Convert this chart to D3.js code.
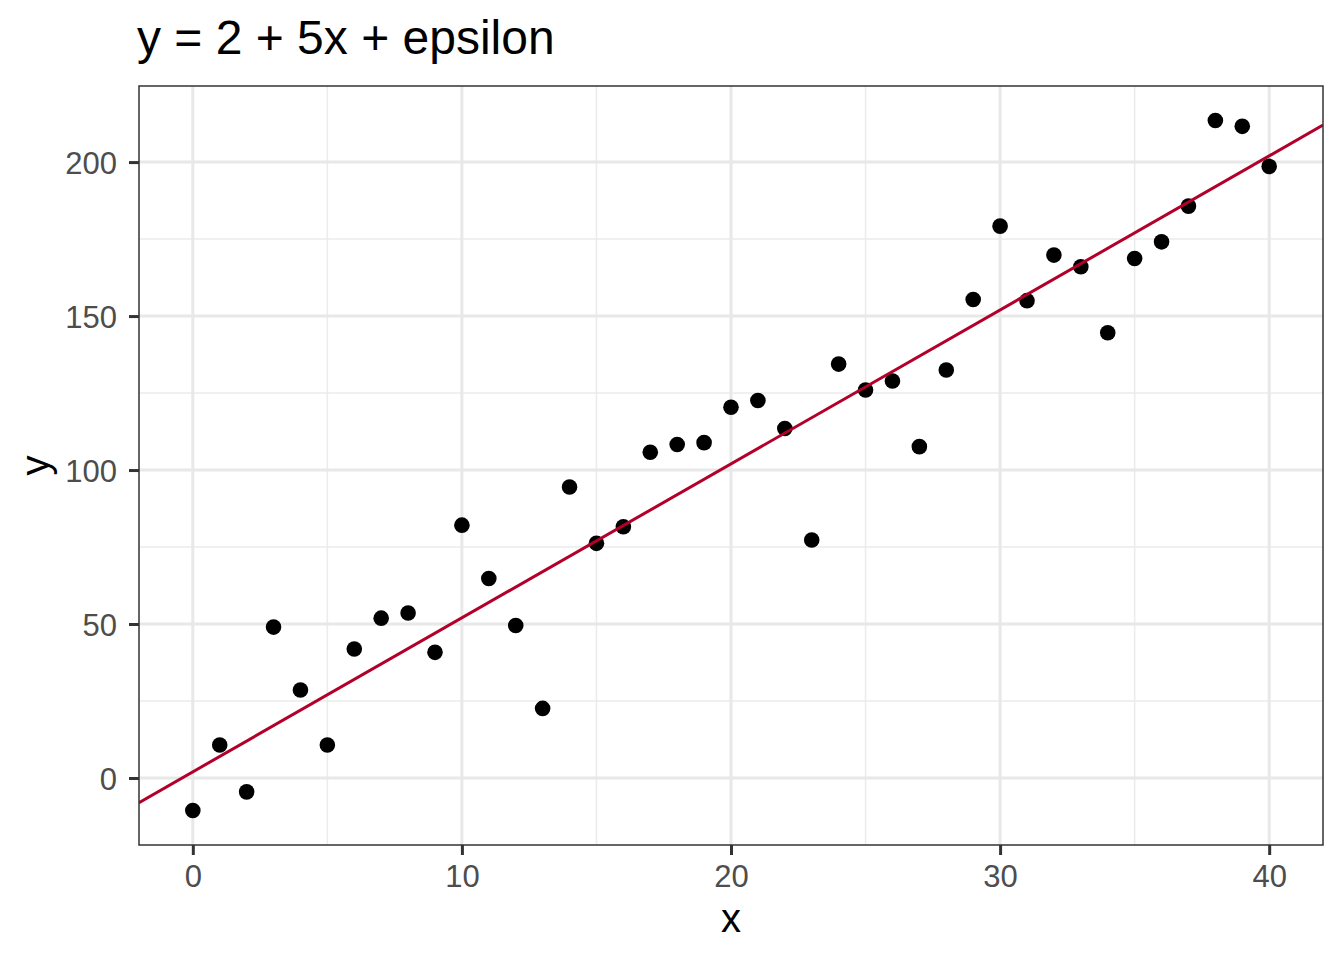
<!DOCTYPE html>
<meta charset="utf-8">
<style>
  body { margin: 0; background: #fff; }
  svg text { font-family: "Liberation Sans", Arial, Helvetica, sans-serif; }
  .tick-label { fill: #4d4d4d; font-size: 31px; }
  .axis-title { fill: #000; font-size: 40px; }
  .plot-title { fill: #000; font-size: 48px; }
</style>
<svg width="1344" height="960"></svg>
<script src="https://d3js.org/d3.v7.min.js"></script>
<script>

// data
var xs = [0, 1, 2, 3, 4, 5, 6, 7, 8, 9, 10, 11, 12, 13, 14, 15, 16, 17, 18, 19, 20,
          21, 22, 23, 24, 25, 26, 27, 28, 29, 30, 31, 32, 33, 34, 35, 36, 37, 38, 39, 40];
var ys = [-10.55, 10.7, -4.5, 49.0, 28.6, 10.7, 41.9, 51.9, 53.6, 40.8, 82.1,
          64.8, 49.5, 22.6, 94.5, 76.2, 81.6, 105.8, 108.3, 108.9, 120.4,
          122.6, 113.5, 77.3, 134.4, 126.0, 128.9, 107.6, 132.5, 155.4, 179.2,
          155.0, 169.8, 166.0, 144.6, 168.7, 174.1, 185.7, 213.5, 211.6, 198.6];
var intercept = 2, slope = 5;
var xTicks = [0, 10, 20, 30, 40];
var yTicks = [0, 50, 100, 150, 200];
var xMinor = [5, 15, 25, 35];
var yMinor = [25, 75, 125, 175];

var svg = d3.select("svg"),
    pLeft = 139, pRight = 1323, pTop = 86, pBottom = 845;

// ggplot style 5% expansion
function expand(ext) {
  var d = (ext[1] - ext[0]) * 0.05;
  return [ext[0] - d, ext[1] + d];
}

var x = d3.scaleLinear().domain(expand(d3.extent(xs))).range([pLeft, pRight]);
var y = d3.scaleLinear().domain(expand(d3.extent(ys))).range([pBottom, pTop]);

svg.append("defs").append("clipPath").attr("id", "panel")
  .append("rect").attr("x", pLeft).attr("y", pTop)
  .attr("width", pRight - pLeft).attr("height", pBottom - pTop);

// grid
var grid = svg.append("g");
grid.selectAll(".vminor").data(xMinor).enter().append("line")
    .attr("x1", x).attr("x2", x).attr("y1", pTop).attr("y2", pBottom)
    .attr("stroke", "#ebebeb").attr("stroke-width", 1.5);
grid.selectAll(".hminor").data(yMinor).enter().append("line")
    .attr("y1", y).attr("y2", y).attr("x1", pLeft).attr("x2", pRight)
    .attr("stroke", "#ebebeb").attr("stroke-width", 1.5);
grid.selectAll(".vmajor").data(xTicks).enter().append("line")
    .attr("x1", x).attr("x2", x).attr("y1", pTop).attr("y2", pBottom)
    .attr("stroke", "#e8e8e8").attr("stroke-width", 3);
grid.selectAll(".hmajor").data(yTicks).enter().append("line")
    .attr("y1", y).attr("y2", y).attr("x1", pLeft).attr("x2", pRight)
    .attr("stroke", "#e8e8e8").attr("stroke-width", 3);

// points
svg.append("g").selectAll("circle")
  .data(xs.map(function(d, i) { return [d, ys[i]]; }))
  .enter().append("circle")
    .attr("cx", function(d) { return x(d[0]); })
    .attr("cy", function(d) { return y(d[1]); })
    .attr("r", 7.8)
    .attr("fill", "#000");

// abline
var xd = x.domain();
svg.append("line")
    .attr("clip-path", "url(#panel)")
    .attr("x1", x(xd[0])).attr("y1", y(intercept + slope * xd[0]))
    .attr("x2", x(xd[1])).attr("y2", y(intercept + slope * xd[1]))
    .attr("stroke", "#b2002a").attr("stroke-width", 3);

// panel border
svg.append("rect")
    .attr("x", pLeft).attr("y", pTop)
    .attr("width", pRight - pLeft).attr("height", pBottom - pTop)
    .attr("fill", "none").attr("stroke", "#333333").attr("stroke-width", 1.5);

// axes
var xAxis = svg.append("g").attr("transform", "translate(0," + pBottom + ")")
    .call(d3.axisBottom(x).tickValues(xTicks).tickSize(10).tickPadding(9).tickFormat(d3.format("d")));
var yAxis = svg.append("g").attr("transform", "translate(" + pLeft + ",0)")
    .call(d3.axisLeft(y).tickValues(yTicks).tickSize(10).tickPadding(12).tickFormat(d3.format("d")));

[xAxis, yAxis].forEach(function(a) {
  a.attr("font-size", null).attr("font-family", null);
  a.select(".domain").remove();
  a.selectAll(".tick line").attr("stroke", "#333333").attr("stroke-width", 3);
  a.selectAll(".tick text").attr("class", "tick-label").attr("fill", null);
});
yAxis.selectAll(".tick text").attr("dy", "0.36em");
xAxis.selectAll(".tick text").attr("dy", "0.75em");

// titles
svg.append("text").attr("class", "axis-title")
    .attr("x", (pLeft + pRight) / 2).attr("y", 932)
    .attr("text-anchor", "middle").text("x");
svg.append("text").attr("class", "axis-title")
    .attr("transform", "translate(49," + (pTop + pBottom) / 2 + ") rotate(-90)")
    .attr("text-anchor", "middle").text("y");
svg.append("text").attr("class", "plot-title")
    .attr("x", 137).attr("y", 54).text("y = 2 + 5x + epsilon");

</script>
